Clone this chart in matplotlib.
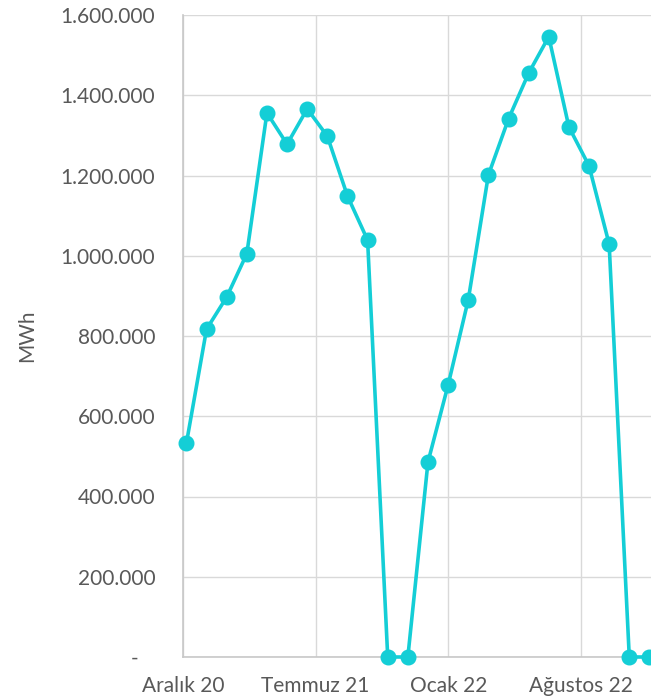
import numpy as np
import matplotlib.pyplot as plt
from matplotlib.ticker import FuncFormatter

# Monthly generation, Dec 2020 - Nov 2022
months = ['Aralık 20', 'Ocak 21', 'Şubat 21', 'Mart 21', 'Nisan 21', 'Mayıs 21',
          'Haziran 21', 'Temmuz 21', 'Ağustos 21', 'Eylül 21', 'Ekim 21', 'Kasım 21',
          'Aralık 21', 'Ocak 22', 'Şubat 22', 'Mart 22', 'Nisan 22', 'Mayıs 22',
          'Haziran 22', 'Temmuz 22', 'Ağustos 22', 'Eylül 22', 'Ekim 22', 'Kasım 22']
mwh = [533000, 817000, 897000, 1005000, 1356000, 1278000,
       1366000, 1298000, 1149000, 1039000, 0, 0,
       486000, 678000, 890000, 1201000, 1341000, 1455000,
       1546000, 1321000, 1224000, 1029000, 0, 0]

# date-axis style labels (roughly every 200 days)
tick_labels = ['Aralık 20', 'Temmuz 21', 'Ocak 22', 'Ağustos 22']
tick_pos = [-0.17, 6.42, 13.01, 19.6]

line_color = '#14ced6'
text_color = '#595959'
grid_color = '#d9d9d9'

plt.rcParams['font.family'] = ['Lato', 'DejaVu Sans']

fig = plt.figure(figsize=(6.51, 6.98), dpi=100)
W, H = 651, 698
left, right, top, bottom = 183, 665, 15, 657
ax = fig.add_axes([left / W, (H - bottom) / H, (right - left) / W, (bottom - top) / H])

x = np.arange(len(mwh))
ax.plot(x, mwh, color=line_color, lw=2.6, marker='o', markersize=10.5,
        zorder=3, clip_on=False)

ax.set_xlim(tick_pos[0], tick_pos[0] + (right - left) / 20.13)
ax.set_ylim(0, 1600000)
ax.set_yticks(np.arange(0, 1600001, 200000))
ax.yaxis.set_major_formatter(FuncFormatter(
    lambda v, p: '-   ' if v == 0 else f'{int(v):,}'.replace(',', '.')))
ax.set_xticks(tick_pos)
ax.set_xticklabels(tick_labels)

ax.tick_params(axis='y', length=0, pad=20, labelsize=15, labelcolor=text_color)
ax.tick_params(axis='x', length=0, pad=14, labelsize=15, labelcolor=text_color)

ax.grid(True, color=grid_color, lw=1.0, zorder=0)
ax.set_axisbelow(True)
for s in ['top', 'right']:
    ax.spines[s].set_visible(False)
for s in ['left', 'bottom']:
    ax.spines[s].set_color('#c8c8c8')
    ax.spines[s].set_linewidth(1.2)

ax.set_ylabel('MWh', fontsize=15, color=text_color)
ax.yaxis.set_label_coords(-146 / (right - left), 0.5)

fig.savefig('out.png', dpi=100)
